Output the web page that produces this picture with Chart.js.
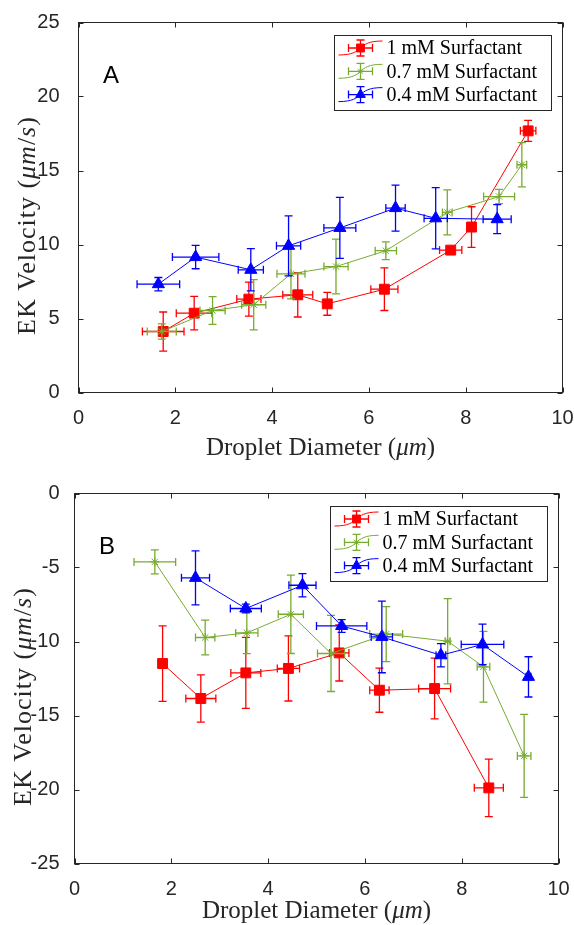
<!DOCTYPE html>
<html>
<head>
<meta charset="utf-8">
<script src="https://cdn.jsdelivr.net/npm/chart.js@4.4.0/dist/chart.umd.min.js"></script>
<style>
  html, body { margin: 0; padding: 0; background: #fff; }
  body { width: 574px; height: 925px; position: relative; overflow: hidden; }
  canvas { position: absolute; left: 0; }
  #chartA { top: 0; }
  #chartB { top: 462px; }
</style>
</head>
<body>
<canvas id="chartA" width="574" height="462"></canvas>
<canvas id="chartB" width="574" height="463"></canvas>
<script>
// Panel A
const diamA_1 = [1.75, 2.39, 3.52, 4.53, 5.14, 6.32, 7.69, 8.12, 9.29];
const velA_1 = [4.12, 5.36, 6.31, 6.6, 5.99, 6.98, 9.62, 11.18, 17.68];
const dErrA_1 = [0.43, 0.37, 0.25, 0.31, 0, 0.28, 0.23, 0, 0.16];
const vErrA_1 = [1.32, 1.13, 1.15, 1.5, 0.77, 1.44, 0, 1.37, 0.71];

const diamA_07 = [1.72, 2.77, 3.62, 4.39, 5.32, 6.35, 7.62, 8.69, 9.16];
const velA_07 = [4.12, 5.54, 5.93, 8.02, 8.51, 9.58, 12.17, 13.24, 15.39];
const dErrA_07 = [0.3, 0.26, 0.25, 0.29, 0.25, 0.22, 0.1, 0.32, 0.1];
const vErrA_07 = [0.52, 0.94, 1.7, 1.7, 1.85, 0.6, 1.52, 0.48, 1.5];

const diamA_04 = [1.65, 2.42, 3.56, 4.34, 5.4, 6.55, 7.38, 8.65];
const velA_04 = [7.32, 9.15, 8.29, 9.91, 11.12, 12.46, 11.77, 11.71];
const dErrA_04 = [0.44, 0.48, 0.26, 0.25, 0.33, 0.2, 0.24, 0.29];
const vErrA_04 = [0.45, 0.79, 1.43, 2.03, 2.06, 1.55, 2.07, 0.98];

// Panel B
const diamB_1 = [1.82, 2.61, 3.54, 4.42, 5.47, 6.3, 7.44, 8.56];
const velB_1 = [-11.49, -13.85, -12.12, -11.82, -10.77, -13.29, -13.18, -19.89];
const dErrB_1 = [0, 0.31, 0.31, 0.23, 0.2, 0.2, 0.33, 0.3];
const vErrB_1 = [2.55, 1.6, 2.4, 2.2, 1.9, 1.49, 2.05, 1.94];

const diamB_07 = [1.66, 2.7, 3.56, 4.47, 5.3, 6.44, 7.71, 8.45, 9.29];
const velB_07 = [-4.62, -9.73, -9.42, -8.16, -10.81, -9.5, -9.98, -11.71, -17.73];
const dErrB_07 = [0.43, 0.2, 0.23, 0.26, 0.28, 0.34, 0.05, 0.13, 0.14];
const vErrB_07 = [0.81, 1.18, 1.4, 2.65, 2.57, 1.86, 2.88, 2.39, 2.8];

const diamB_04 = [2.5, 3.54, 4.71, 5.52, 6.35, 7.57, 8.43, 9.38];
const velB_04 = [-5.7, -7.77, -6.2, -8.95, -9.69, -10.93, -10.2, -12.39];
const dErrB_04 = [0.29, 0.32, 0.28, 0.52, 0.22, 0.1, 0.44, 0.05];
const vErrB_04 = [1.82, 0.3, 0.79, 0.43, 2.42, 0.78, 1.37, 1.36];

const seriesLabels = ["1 mM Surfactant", "0.7 mM Surfactant", "0.4 mM Surfactant"];
const xTicks = [0, 2, 4, 6, 8, 10];

const RED = "#ff0000", GREEN = "#77ac30", BLUE = "#0000ff", AXIS = "#262626";
const SERIF = "'Liberation Serif', 'Times New Roman', serif";
const SANS = "'Liberation Sans', Arial, sans-serif";

function series(label, xs, ys, xe, ye, color, style, radius, order) {
  return {
    label,
    data: xs.map((x, i) => ({ x, y: ys[i] })),
    xErr: xe, yErr: ye,
    showLine: true,
    borderColor: color, backgroundColor: color,
    borderWidth: 1,
    pointStyle: style, pointRadius: radius,
    pointBorderColor: color, pointBackgroundColor: color, pointBorderWidth: 1,
    order
  };
}

// error bars through the scales
const errorBars = {
  id: "errorBars",
  beforeDatasetDraw(chart, args) {
    const ds = chart.data.datasets[args.index];
    const { ctx } = chart;
    const { x, y } = chart.scales;
    const cap = 4;
    ctx.save();
    ctx.strokeStyle = ds.borderColor;
    ctx.lineWidth = 1.3;
    ctx.beginPath();
    ds.data.forEach((p, i) => {
      const px = x.getPixelForValue(p.x), py = y.getPixelForValue(p.y);
      const ey = ds.yErr[i], ex = ds.xErr[i];
      if (ey) {
        const y1 = y.getPixelForValue(p.y - ey), y2 = y.getPixelForValue(p.y + ey);
        ctx.moveTo(px, y1); ctx.lineTo(px, y2);
        ctx.moveTo(px - cap, y1); ctx.lineTo(px + cap, y1);
        ctx.moveTo(px - cap, y2); ctx.lineTo(px + cap, y2);
      }
      if (ex) {
        const x1 = x.getPixelForValue(p.x - ex), x2 = x.getPixelForValue(p.x + ex);
        ctx.moveTo(x1, py); ctx.lineTo(x2, py);
        ctx.moveTo(x1, py - cap); ctx.lineTo(x1, py + cap);
        ctx.moveTo(x2, py - cap); ctx.lineTo(x2, py + cap);
      }
    });
    ctx.stroke();
    ctx.restore();
  }
};

// box + inward ticks on all four sides
const frame = {
  id: "frame",
  beforeDatasetsDraw(chart) {
    const { ctx, chartArea: a, scales: { x, y } } = chart;
    ctx.save();
    ctx.strokeStyle = AXIS;
    ctx.lineWidth = 1;
    ctx.strokeRect(a.left, a.top, a.right - a.left, a.bottom - a.top);
    ctx.beginPath();
    x.ticks.forEach(t => {
      const px = Math.round(x.getPixelForValue(t.value)) + 0.5;
      ctx.moveTo(px, a.bottom); ctx.lineTo(px, a.bottom - 5);
      ctx.moveTo(px, a.top); ctx.lineTo(px, a.top + 5);
    });
    y.ticks.forEach(t => {
      const py = Math.round(y.getPixelForValue(t.value)) + 0.5;
      ctx.moveTo(a.left, py); ctx.lineTo(a.left + 5, py);
      ctx.moveTo(a.right, py); ctx.lineTo(a.right - 5, py);
    });
    ctx.stroke();
    ctx.restore();
  }
};

// legend box, panel letter and axis titles
const decor = {
  id: "decor",
  afterDraw(chart, args, opts) {
    const { ctx, chartArea: a } = chart;
    ctx.save();
    // legend
    const bw = 217, bh = 75;
    const bx = a.right - 12 - bw, by = a.top + 12;
    ctx.fillStyle = "#fff";
    ctx.fillRect(bx, by, bw, bh);
    ctx.strokeStyle = AXIS;
    ctx.lineWidth = 1;
    ctx.strokeRect(Math.round(bx) + 0.5, Math.round(by) + 0.5, bw, bh);
    chart.data.datasets.forEach((ds, i) => {
      const cy = by + 13.5 + i * 23.3;
      const cx = bx + 27;
      ctx.strokeStyle = ds.borderColor;
      ctx.fillStyle = ds.borderColor;
      ctx.lineWidth = 1;
      ctx.beginPath();
      ctx.moveTo(cx - 22, cy + 7);
      ctx.bezierCurveTo(cx + 6, cy + 7, cx - 6, cy - 7, cx + 22, cy - 7);
      ctx.stroke();
      ctx.lineWidth = 1.3;
      ctx.beginPath();
      ctx.moveTo(cx, cy - 8); ctx.lineTo(cx, cy + 8);
      ctx.moveTo(cx - 4, cy - 8); ctx.lineTo(cx + 4, cy - 8);
      ctx.moveTo(cx - 4, cy + 8); ctx.lineTo(cx + 4, cy + 8);
      ctx.moveTo(cx - 12, cy); ctx.lineTo(cx + 12, cy);
      ctx.moveTo(cx - 12, cy - 4); ctx.lineTo(cx - 12, cy + 4);
      ctx.moveTo(cx + 12, cy - 4); ctx.lineTo(cx + 12, cy + 4);
      ctx.stroke();
      ctx.lineWidth = 1;
      Chart.helpers.drawPoint(ctx, {
        pointStyle: ds.pointStyle, radius: ds.pointRadius * 0.8, rotation: 0, borderWidth: 1
      }, cx, cy);
      ctx.fillStyle = "#000";
      ctx.font = "20px " + SERIF;
      ctx.textAlign = "left";
      ctx.textBaseline = "middle";
      ctx.fillText(ds.label, bx + 53, cy + 1);
    });
    // panel letter
    ctx.fillStyle = "#000";
    ctx.font = "24px " + SANS;
    ctx.textAlign = "center";
    ctx.textBaseline = "middle";
    ctx.fillText(opts.letter, a.left + 32.5, a.top + 54);
    // x title
    drawRich(ctx, [["Droplet Diameter (", false], ["μm", true], [")", false]],
      (a.left + a.right) / 2, a.bottom + opts.xTitleGap, 0, 25, 0);
    // y title
    drawRich(ctx, [["EK Velocity (", false], ["μm", true], ["/", false], ["s", true], [")", false]],
      a.left - opts.yTitleGap, (a.top + a.bottom) / 2 + 18, -Math.PI / 2, 26, 1);
    ctx.restore();
  }
};

function drawRich(ctx, parts, cx, cy, rot, size, spacing) {
  ctx.save();
  ctx.translate(cx, cy);
  ctx.rotate(rot);
  ctx.fillStyle = "#262626";
  ctx.textBaseline = "middle";
  ctx.textAlign = "left";
  ctx.letterSpacing = spacing + "px";
  const fonts = parts.map(p => (p[1] ? "italic " : "") + size + "px " + SERIF);
  let total = 0;
  parts.forEach((p, i) => { ctx.font = fonts[i]; total += ctx.measureText(p[0]).width; });
  let x = -total / 2;
  parts.forEach((p, i) => {
    ctx.font = fonts[i];
    ctx.fillText(p[0], x, 0);
    x += ctx.measureText(p[0]).width;
  });
  ctx.restore();
}

function makeChart(id, datasets, yMin, yMax, area, h, opts) {
  return new Chart(document.getElementById(id), {
    type: "scatter",
    data: { datasets },
    options: {
      responsive: false,
      animation: false,
      devicePixelRatio: 1,
      layout: { padding: { left: 0, top: area.top, right: 574 - area.right, bottom: 0 } },
      plugins: {
        legend: { display: false },
        tooltip: { enabled: false },
        decor: opts
      },
      scales: {
        x: {
          type: "linear", min: 0, max: 10,
          afterBuildTicks: s => { s.ticks = xTicks.map(v => ({ value: v })); },
          ticks: { color: AXIS, padding: 6, font: { family: SANS, size: 20 } },
          grid: { display: false },
          border: { display: false },
          afterFit: s => {
            s.height = h - area.bottom;
            s.paddingLeft = 0;
            s.paddingRight = 0;
          }
        },
        y: {
          type: "linear", min: yMin, max: yMax,
          ticks: { stepSize: 5, color: AXIS, padding: opts.yPad, font: { family: SANS, size: 20 } },
          grid: { display: false },
          border: { display: false },
          afterFit: s => {
            s.width = area.left;
            s.paddingTop = 0;
            s.paddingBottom = 0;
          }
        }
      }
    },
    plugins: [frame, errorBars, decor]
  });
}

makeChart("chartA", [
  series(seriesLabels[0], diamA_1, velA_1, dErrA_1, vErrA_1, RED, "rect", 7, 3),
  series(seriesLabels[1], diamA_07, velA_07, dErrA_07, vErrA_07, GREEN, "star", 4.5, 2),
  series(seriesLabels[2], diamA_04, velA_04, dErrA_04, vErrA_04, BLUE, "triangle", 7, 1)
], 0, 25, { left: 78.5, right: 562.5, top: 22.5, bottom: 392.5 }, 462,
  { letter: "A", xTitleGap: 56, yTitleGap: 50.5, yPad: 11 });

makeChart("chartB", [
  series(seriesLabels[0], diamB_1, velB_1, dErrB_1, vErrB_1, RED, "rect", 7, 3),
  series(seriesLabels[1], diamB_07, velB_07, dErrB_07, vErrB_07, GREEN, "star", 4.5, 2),
  series(seriesLabels[2], diamB_04, velB_04, dErrB_04, vErrB_04, BLUE, "triangle", 7, 1)
], -25, 0, { left: 74.5, right: 558.5, top: 31.5, bottom: 401.5 }, 463,
  { letter: "B", xTitleGap: 48, yTitleGap: 50.5, yPad: 7 });
</script>
</body>
</html>
